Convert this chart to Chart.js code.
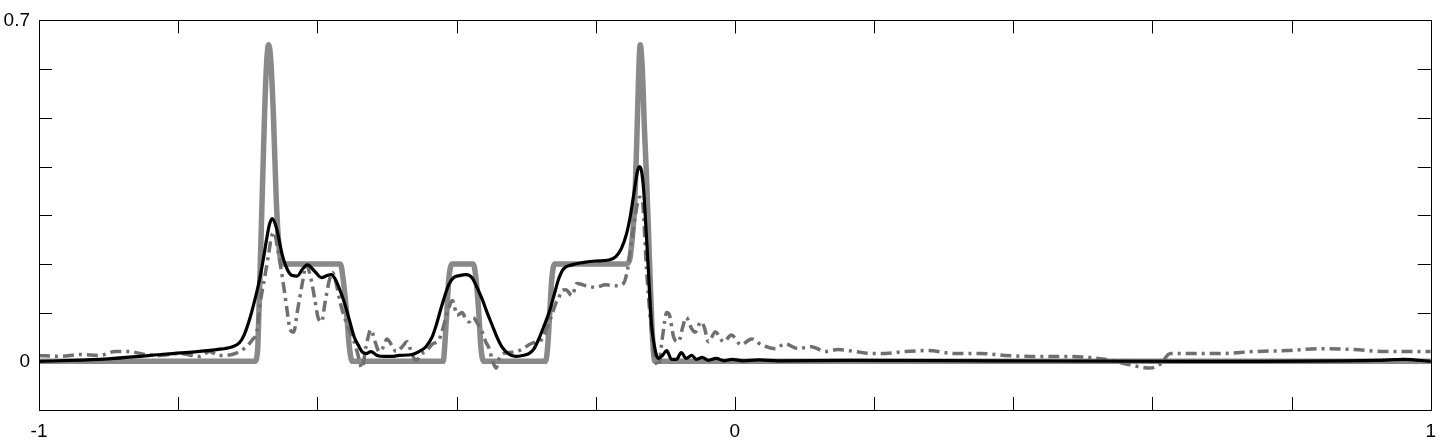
<!DOCTYPE html>
<html>
<head>
<meta charset="utf-8">
<script src="https://cdn.jsdelivr.net/npm/chart.js@4/dist/chart.umd.min.js"></script>
<style>
  html, body { margin: 0; padding: 0; background: #fff; }
  canvas { display: block; }
</style>
</head>
<body>
<canvas id="chart" width="1446" height="444"></canvas>
<script>
// exact solution (thick grey)
const xExact = [-1, -0.690, -0.686, -0.683, -0.680, -0.676, -0.673, -0.670, -0.667, -0.663, -0.659, -0.654, -0.649,
  -0.567, -0.563, -0.558, -0.554, -0.550, -0.419, -0.417, -0.414, -0.411, -0.406, -0.376, -0.372, -0.368, -0.365, -0.361,
  -0.272, -0.269, -0.266, -0.263, -0.259, -0.156, -0.151, -0.147, -0.144, -0.141, -0.138, -0.136, -0.133, -0.130,
  -0.127, -0.124, -0.121, -0.118, -0.115, 1];
const uExact = [0, 0, 0.02, 0.15, 0.30, 0.50, 0.61, 0.65, 0.62, 0.50, 0.33, 0.22, 0.20,
  0.20, 0.17, 0.10, 0.03, 0, 0, 0.03, 0.10, 0.17, 0.20, 0.20, 0.17, 0.10, 0.03, 0,
  0, 0.03, 0.10, 0.17, 0.20, 0.20, 0.21, 0.26, 0.32, 0.45, 0.60, 0.65, 0.60, 0.48,
  0.38, 0.26, 0.14, 0.04, 0, 0];

// smooth approximation (black)
const xApprox = [-1, -0.913, -0.817, -0.745, -0.722, -0.712, -0.705, -0.697, -0.690, -0.683,
  -0.677, -0.673, -0.669, -0.665, -0.659, -0.650, -0.643, -0.636, -0.629, -0.621,
  -0.614, -0.604, -0.594, -0.586, -0.580, -0.574, -0.568, -0.561, -0.554, -0.547,
  -0.540, -0.536, -0.530, -0.523, -0.514, -0.504, -0.494, -0.482, -0.464, -0.454,
  -0.444, -0.435, -0.429, -0.421, -0.411, -0.404, -0.396, -0.386, -0.378, -0.370,
  -0.363, -0.356, -0.349, -0.342, -0.335, -0.325, -0.315, -0.305, -0.296, -0.289,
  -0.282, -0.275, -0.267, -0.260, -0.253, -0.246, -0.234, -0.217, -0.200, -0.181,
  -0.171, -0.163, -0.156, -0.150, -0.144, -0.140, -0.137, -0.134, -0.131, -0.128,
  -0.124, -0.120, -0.114, -0.110, -0.104, -0.098, -0.091, -0.084, -0.077, -0.070,
  -0.062, -0.055, -0.047, -0.038, -0.027, -0.015, -0.004, 0.012, 0.034, 0.062,
  0.163, 0.378, 0.665, 0.923, 0.961, 1];
const uApprox = [0, 0.004, 0.015, 0.024, 0.030, 0.038, 0.055, 0.088, 0.125, 0.168,
  0.215, 0.25, 0.28, 0.293, 0.275, 0.216, 0.188, 0.176, 0.175, 0.19,
  0.198, 0.185, 0.172, 0.176, 0.178, 0.168, 0.148, 0.12, 0.085, 0.05,
  0.03, 0.02, 0.016, 0.02, 0.012, 0.01, 0.01, 0.012, 0.014, 0.02,
  0.03, 0.05, 0.075, 0.115, 0.158, 0.172, 0.176, 0.178, 0.172, 0.15,
  0.127, 0.1, 0.075, 0.05, 0.03, 0.015, 0.01, 0.012, 0.016, 0.025,
  0.045, 0.07, 0.1, 0.135, 0.17, 0.19, 0.198, 0.203, 0.206, 0.208,
  0.215, 0.232, 0.26, 0.30, 0.355, 0.39, 0.40, 0.39, 0.35, 0.28,
  0.18, 0.08, 0.02, 0.006, 0.012, 0.022, 0.004, 0.004, 0.018, 0.006,
  0.012, 0.004, 0.008, 0.002, 0.006, 0.001, 0.004, 0.001, 0.003, 0.001,
  0.002, 0.001, 0, 0.002, 0.004, 0];

// oscillating approximation (grey dash-dot)
const xNoisy = [-1, -0.970, -0.941, -0.913, -0.891, -0.870, -0.848, -0.827, -0.798, -0.769,
  -0.755, -0.741, -0.723, -0.712, -0.702, -0.693, -0.687, -0.682, -0.676, -0.670,
  -0.666, -0.662, -0.657, -0.650, -0.644, -0.639, -0.634, -0.629, -0.621, -0.616,
  -0.610, -0.604, -0.599, -0.594, -0.589, -0.583, -0.578, -0.573, -0.567, -0.561,
  -0.554, -0.547, -0.541, -0.536, -0.530, -0.523, -0.517, -0.511, -0.505, -0.500,
  -0.492, -0.487, -0.478, -0.471, -0.464, -0.458, -0.451, -0.444, -0.435, -0.425,
  -0.417, -0.411, -0.406, -0.399, -0.392, -0.386, -0.382, -0.376, -0.370, -0.363,
  -0.358, -0.353, -0.348, -0.343, -0.339, -0.335, -0.325, -0.315, -0.305, -0.296,
  -0.286, -0.277, -0.270, -0.263, -0.257, -0.253, -0.249, -0.243, -0.234, -0.227,
  -0.214, -0.200, -0.186, -0.171, -0.160, -0.154, -0.148, -0.143, -0.137, -0.133,
  -0.127, -0.121, -0.115, -0.110, -0.104, -0.098, -0.094, -0.088, -0.081, -0.075,
  -0.070, -0.062, -0.057, -0.049, -0.044, -0.038, -0.028, -0.016, -0.005, 0.009,
  0.024, 0.038, 0.058, 0.072, 0.091, 0.110, 0.130, 0.148, 0.173, 0.196,
  0.216, 0.244, 0.277, 0.316, 0.353, 0.388, 0.425, 0.482, 0.531, 0.564,
  0.597, 0.611, 0.626, 0.650, 0.697, 0.746, 0.794, 0.841, 0.890, 0.937,
  1];
const uNoisy = [0.012, 0.01, 0.014, 0.012, 0.02, 0.02, 0.014, 0.012, 0.016, 0.01,
  0.02, 0.012, 0.014, 0.02, 0.03, 0.045, 0.06, 0.12, 0.17, 0.22,
  0.255, 0.265, 0.23, 0.17, 0.11, 0.065, 0.06, 0.1, 0.165, 0.198,
  0.175, 0.13, 0.09, 0.081, 0.12, 0.165, 0.182, 0.16, 0.12, 0.09,
  0.065, 0.04, 0.01, -0.014, 0.03, 0.065, 0.04, 0.02, 0.03, 0.046,
  0.03, 0.02, 0.03, 0.04, 0.015, 0.002, 0.015, 0.02, 0.035, 0.045,
  0.08, 0.11, 0.125, 0.095, 0.1, 0.085, 0.081, 0.09, 0.078, 0.06,
  0.04, 0.026, 0.0, -0.014, 0.005, 0.014, 0.018, 0.02, 0.025, 0.034,
  0.04, 0.046, 0.07, 0.095, 0.12, 0.13, 0.145, 0.147, 0.135, 0.16,
  0.155, 0.152, 0.157, 0.155, 0.16, 0.19, 0.25, 0.3, 0.337, 0.33,
  0.19, 0.08, 0.01, -0.01, 0.05, 0.1, 0.095, 0.05, 0.04, 0.07,
  0.09, 0.067, 0.06, 0.081, 0.07, 0.04, 0.06, 0.04, 0.054, 0.034,
  0.046, 0.034, 0.026, 0.036, 0.026, 0.03, 0.02, 0.024, 0.02, 0.016,
  0.016, 0.02, 0.022, 0.016, 0.016, 0.012, 0.01, 0.01, 0.004, -0.006,
  -0.014, -0.006, 0.016, 0.016, 0.016, 0.02, 0.022, 0.026, 0.024, 0.02,
  0.02];

// only these ticks get a label
const xTickLabels = [-1, 0, 1];
const yTickLabels = [0, 0.7];

const toPoints = (xs, ys) => xs.map((x, i) => ({ x, y: ys[i] }));

const TICK_LEN = 13;

// box round the plot with ticks pointing inwards on all four sides
const boxTicks = {
    id: 'boxTicks',
    afterDatasetsDraw(chart) {
        const { ctx, chartArea: a, scales: { x, y } } = chart;
        ctx.save();
        ctx.strokeStyle = '#000';
        ctx.lineWidth = 1;
        ctx.beginPath();
        x.ticks.forEach(t => {
            const px = Math.round(x.getPixelForValue(t.value)) + 0.5;
            ctx.moveTo(px, a.bottom);
            ctx.lineTo(px, a.bottom - TICK_LEN);
            ctx.moveTo(px, a.top);
            ctx.lineTo(px, a.top + TICK_LEN);
        });
        y.ticks.forEach(t => {
            const py = Math.round(y.getPixelForValue(t.value)) + 0.5;
            ctx.moveTo(a.left, py);
            ctx.lineTo(a.left + TICK_LEN, py);
            ctx.moveTo(a.right, py);
            ctx.lineTo(a.right - TICK_LEN, py);
        });
        ctx.stroke();
        ctx.strokeRect(Math.round(a.left) + 0.5, Math.round(a.top) + 0.5,
            Math.round(a.right - a.left), Math.round(a.bottom - a.top));
        ctx.restore();
    }
};

const pickLabel = (list) => (v) => {
    const hit = list.find(l => Math.abs(l - v) < 1e-6);
    return hit === undefined ? '' : String(hit);
};

const tickFont = { family: '"Liberation Sans", Arial, Helvetica, sans-serif', size: 19 };

new Chart(document.getElementById('chart'), {
    type: 'line',
    data: {
        datasets: [
            {
                label: 'approx',
                data: toPoints(xApprox, uApprox),
                borderColor: '#000000',
                borderWidth: 3.2,
                cubicInterpolationMode: 'monotone',
                borderJoinStyle: 'round',
                borderCapStyle: 'round',
                pointRadius: 0,
                order: 1,
            },
            {
                label: 'oscillating',
                data: toPoints(xNoisy, uNoisy),
                borderColor: '#6f6f6f',
                borderWidth: 3.5,
                borderDash: [11, 5, 3, 5],
                cubicInterpolationMode: 'monotone',
                pointRadius: 0,
                order: 2,
            },
            {
                label: 'exact',
                data: toPoints(xExact, uExact),
                borderColor: '#898989',
                borderWidth: 5.5,
                cubicInterpolationMode: 'monotone',
                borderJoinStyle: 'round',
                borderCapStyle: 'round',
                pointRadius: 0,
                order: 3,
            },
        ],
    },
    options: {
        responsive: false,
        animation: false,
        events: [],
        layout: { padding: { top: 13, right: 12, left: 0, bottom: 0 } },
        plugins: {
            legend: { display: false },
            tooltip: { enabled: false },
        },
        scales: {
            x: {
                type: 'linear',
                min: -1,
                max: 1,
                grid: { display: false, drawTicks: false },
                border: { display: false },
                ticks: {
                    stepSize: 0.2,
                    autoSkip: false,
                    maxRotation: 0,
                    padding: 10,
                    color: '#000',
                    font: tickFont,
                    callback: pickLabel(xTickLabels),
                },
                afterFit: (scale) => { scale.height = 34; },
            },
            y: {
                min: -0.1,
                max: 0.7,
                grid: { display: false, drawTicks: false },
                border: { display: false },
                ticks: {
                    stepSize: 0.1,
                    autoSkip: false,
                    padding: 9,
                    color: '#000',
                    font: tickFont,
                    callback: pickLabel(yTickLabels),
                },
                afterFit: (scale) => { scale.width = 39; },
            },
        },
    },
    plugins: [boxTicks],
});
</script>
</body>
</html>
